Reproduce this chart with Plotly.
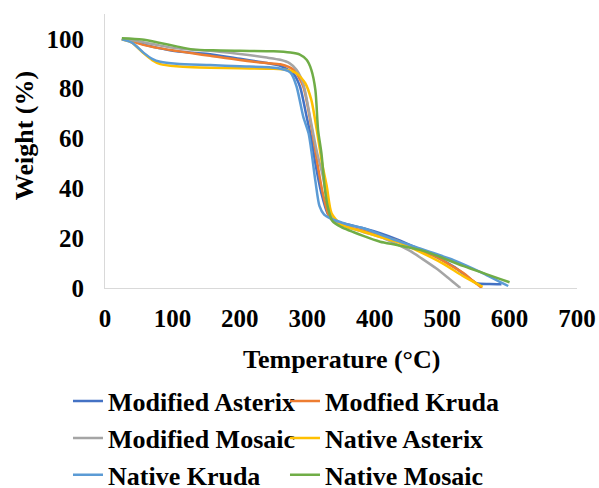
import plotly.graph_objects as go

names = ["Modified Asterix", "Modfied Kruda", "Modified Mosaic",
         "Native Asterix", "Native Kruda", "Native Mosaic"]
colors = ["#4472C4", "#ED7D31", "#A5A5A5", "#FFC000", "#5B9BD5", "#70AD47"]

t_mod_asterix = [25, 40, 60, 80, 106, 130, 156, 200, 240, 260, 279, 289, 299, 306, 312, 321, 330, 340, 360, 383, 408, 433, 467, 491, 517, 540, 551, 570, 588]
w_mod_asterix = [100, 99.3, 97.6, 96.3, 95.0, 94.4, 93.8, 92.0, 90.3, 89.2, 86.2, 81, 68.8, 60, 50, 38, 30, 27, 25.5, 24, 22, 19.5, 15.5, 12.5, 8.6, 4, 1.9, 1.6, 1.5]

t_mod_kruda = [25, 40, 57, 80, 106, 130, 156, 200, 240, 260, 280, 294, 306, 315, 323, 332, 340, 360, 383, 408, 433, 467, 491, 510, 532, 545, 559]
w_mod_kruda = [100, 99, 97.6, 96.3, 95.2, 94.2, 93.2, 91.5, 90.3, 89.8, 87.5, 80.9, 64.8, 50, 38, 29, 26.5, 24.5, 23, 21, 19, 15, 12.6, 9.5, 5.9, 3, 0]

t_mod_mosaic = [25, 40, 60, 80, 106, 130, 156, 200, 240, 260, 274, 284, 294, 304, 314, 323, 336, 350, 383, 408, 433, 453, 470, 491, 510, 527]
w_mod_mosaic = [100, 99.5, 98.5, 97.4, 96.2, 95.6, 95.2, 93.9, 92.5, 91.6, 90.2, 87.6, 82, 68.8, 55, 45, 28.8, 25.5, 22.5, 20.5, 17.5, 14.8, 11.8, 7.9, 3.8, 0]

t_nat_asterix = [25, 40, 57, 70, 82, 106, 130, 156, 200, 250, 270, 284, 297, 306, 314, 322, 329, 336, 350, 383, 408, 433, 467, 500, 530, 560]
w_nat_asterix = [99.8, 98.5, 94.3, 91.5, 89.9, 89.0, 88.6, 88.4, 88.2, 88, 87.5, 86.2, 82.2, 75.5, 63.5, 50, 40.7, 30, 25.5, 22.6, 20.5, 18.5, 14.5, 10, 5, 0.5]

t_nat_kruda = [25, 40, 57, 70, 82, 106, 156, 200, 255, 275, 284, 294, 302, 312, 318, 325, 334, 360, 383, 408, 433, 467, 482, 517, 560, 598]
w_nat_kruda = [99.8, 98.5, 94.5, 92, 90.8, 90, 89.5, 89, 88.3, 86.5, 81, 68.8, 62, 43, 33, 29.5, 28, 25.5, 24, 21.5, 19, 15.9, 14.5, 11.2, 6, 0.8]

t_nat_mosaic = [25, 55, 80, 106, 130, 160, 200, 250, 275, 289, 299, 306, 312, 316, 321, 326, 330, 337, 350, 383, 408, 433, 467, 482, 532, 600]
w_nat_mosaic = [100.3, 99.8, 98.5, 97, 95.8, 95.4, 95.2, 95, 94.5, 93.7, 91.6, 87.6, 79.5, 63.5, 54, 40, 33, 27, 24.5, 20.9, 18.6, 17.3, 15.3, 14, 8.8, 2.3]

xs = [t_mod_asterix, t_mod_kruda, t_mod_mosaic, t_nat_asterix, t_nat_kruda, t_nat_mosaic]
ys = [w_mod_asterix, w_mod_kruda, w_mod_mosaic, w_nat_asterix, w_nat_kruda, w_nat_mosaic]

x_title = "Temperature (°C)"
y_title = "Weight (%)"

FONT = "Liberation Serif"

fig = go.Figure()
for n, c, x, y in zip(names, colors, xs, ys):
    fig.add_trace(go.Scatter(x=x, y=y, name=n, mode="lines",
                             line=dict(color=c, width=2.5, shape="spline", smoothing=0.7)))

fig.update_layout(
    width=599, height=488,
    margin=dict(l=105, r=22, t=14, b=200, autoexpand=False),
    paper_bgcolor="white", plot_bgcolor="white",
    font=dict(family=FONT, size=25, color="black", weight="bold"),
    showlegend=True,
    legend=dict(orientation="h", xref="container", yref="container",
                x=0.1135, y=0.226, xanchor="left", yanchor="top",
                entrywidth=172, entrywidthmode="pixels",
                font=dict(family=FONT, size=26, color="black", weight="bold"),
                bgcolor="rgba(0,0,0,0)", traceorder="normal"),
    xaxis=dict(range=[0, 700], dtick=100, tick0=0, showgrid=False, zeroline=False,
               showline=True, linecolor="#D9D9D9", linewidth=1, ticks="",
               ticklabelstandoff=8,
               tickfont=dict(family=FONT, size=25, color="black", weight="bold")),
    yaxis=dict(range=[0, 110], dtick=20, tick0=0, showgrid=False, zeroline=False,
               showline=True, linecolor="#D9D9D9", linewidth=1, ticks="",
               ticklabelstandoff=15,
               tickfont=dict(family=FONT, size=25, color="black", weight="bold")),
    annotations=[
        dict(text=x_title, xref="paper", yref="paper", x=0.5, y=-0.26,
             xanchor="center", yanchor="middle", showarrow=False,
             font=dict(family=FONT, size=26, color="black", weight="bold")),
        dict(text=y_title, xref="paper", yref="paper", x=-0.169, y=0.555,
             xanchor="center", yanchor="middle", showarrow=False, textangle=-90,
             font=dict(family=FONT, size=26, color="black", weight="bold")),
    ],
)

fig.write_html("out.html",
               config={"displayModeBar": False},
               post_script="document.body.style.margin='0px';document.body.style.overflow='hidden';")
